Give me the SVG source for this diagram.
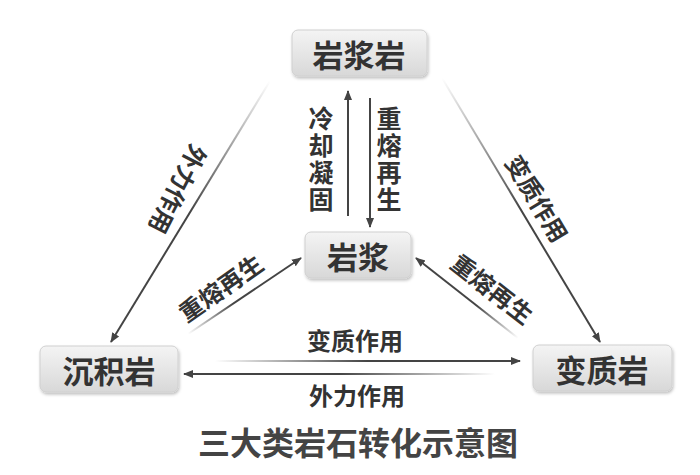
<svg xmlns="http://www.w3.org/2000/svg" width="700" height="475" viewBox="0 0 700 475">
<defs>
<style>
.t{font-family:"Noto Sans CJK SC","Noto Sans",sans-serif;font-weight:bold;fill:#333;text-anchor:middle;dominant-baseline:central}
.n{font-size:31px}
.l{font-size:24px}
.v{font-size:25px;writing-mode:vertical-rl;letter-spacing:2px}
.box{stroke:#d0d0d0;stroke-width:1;fill:url(#bg);filter:url(#sh)}
.c{fill:none;stroke-width:2;marker-end:url(#ah)}
</style>
<linearGradient id="bg" x1="0" y1="0" x2="0" y2="1"><stop offset="0" stop-color="#f4f4f4"/><stop offset="1" stop-color="#d8d8d8"/></linearGradient>
<filter id="sh" x="-10%" y="-10%" width="130%" height="140%"><feDropShadow dx="1" dy="2" stdDeviation="1.5" flood-color="#000" flood-opacity="0.25"/></filter>
<marker id="ah" viewBox="0 0 10 10" refX="9" refY="5" markerWidth="5" markerHeight="5" orient="auto"><path d="M0,1 L10,5 L0,9 Z" fill="#444"/></marker>
<linearGradient id="gL" gradientUnits="userSpaceOnUse" x1="270" y1="81" x2="111" y2="343"><stop offset="0" stop-color="#444" stop-opacity="0"/><stop offset="0.5" stop-color="#444"/><stop offset="1" stop-color="#444"/></linearGradient>
<linearGradient id="gR" gradientUnits="userSpaceOnUse" x1="442" y1="78" x2="600" y2="343"><stop offset="0" stop-color="#444" stop-opacity="0"/><stop offset="0.5" stop-color="#444"/><stop offset="1" stop-color="#444"/></linearGradient>
<linearGradient id="gA" gradientUnits="userSpaceOnUse" x1="188" y1="334" x2="301" y2="257"><stop offset="0" stop-color="#444" stop-opacity="0"/><stop offset="0.4" stop-color="#444"/><stop offset="1" stop-color="#444"/></linearGradient>
<linearGradient id="gB" gradientUnits="userSpaceOnUse" x1="518" y1="338" x2="415" y2="257"><stop offset="0" stop-color="#444" stop-opacity="0"/><stop offset="0.4" stop-color="#444"/><stop offset="1" stop-color="#444"/></linearGradient>
<linearGradient id="gH1" gradientUnits="userSpaceOnUse" x1="215" y1="0" x2="520" y2="0"><stop offset="0" stop-color="#444" stop-opacity="0"/><stop offset="0.5" stop-color="#444"/><stop offset="1" stop-color="#444"/></linearGradient>
<linearGradient id="gH2" gradientUnits="userSpaceOnUse" x1="495" y1="0" x2="183" y2="0"><stop offset="0" stop-color="#444" stop-opacity="0"/><stop offset="0.5" stop-color="#444"/><stop offset="1" stop-color="#444"/></linearGradient>
</defs>
<rect width="700" height="475" fill="#fff"/>
<g id="connectors">
<line class="c" x1="348" y1="216" x2="348" y2="91" stroke="#444" stroke-width="1.5"/>
<line class="c" x1="370" y1="98" x2="370" y2="227" stroke="#444" stroke-width="1.5"/>
<line class="c" x1="270" y1="81" x2="111" y2="342" stroke="url(#gL)"/>
<line class="c" x1="442" y1="78" x2="600" y2="342" stroke="url(#gR)"/>
<line class="c" x1="188" y1="334" x2="301" y2="258" stroke="url(#gA)"/>
<line class="c" x1="518" y1="338" x2="416" y2="258" stroke="url(#gB)"/>
<line class="c" x1="215" y1="361" x2="520" y2="361" stroke="url(#gH1)"/>
<line class="c" x1="495" y1="374" x2="184" y2="374" stroke="url(#gH2)"/>
<text class="t v" x="321" y="160">冷却凝固</text>
<text class="t v" x="389" y="160">重熔再生</text>
<text class="t l" transform="translate(179,190) rotate(117)">外力作用</text>
<text class="t l" transform="translate(538,198) rotate(59)">变质作用</text>
<text class="t l" transform="translate(220,287) rotate(-35)">重熔再生</text>
<text class="t l" transform="translate(493,288) rotate(38)">重熔再生</text>
<text class="t l" x="355" y="339">变质作用</text>
<text class="t l" x="357" y="394">外力作用</text>
</g>
<g id="n1"><rect class="box" x="292" y="30" width="135" height="46" rx="6"/><text class="t n" x="359" y="53">岩浆岩</text></g>
<g id="n2"><rect class="box" x="305" y="232" width="106" height="46" rx="6"/><text class="t n" x="358" y="255">岩浆</text></g>
<g id="n3"><rect class="box" x="40" y="346" width="138" height="46" rx="6"/><text class="t n" x="109" y="369">沉积岩</text></g>
<g id="n4"><rect class="box" x="533" y="345" width="139" height="46" rx="6"/><text class="t n" x="602" y="368">变质岩</text></g>
<text class="t" x="358" y="441" style="font-size:32px;fill:#444">三大类岩石转化示意图</text>
</svg>
